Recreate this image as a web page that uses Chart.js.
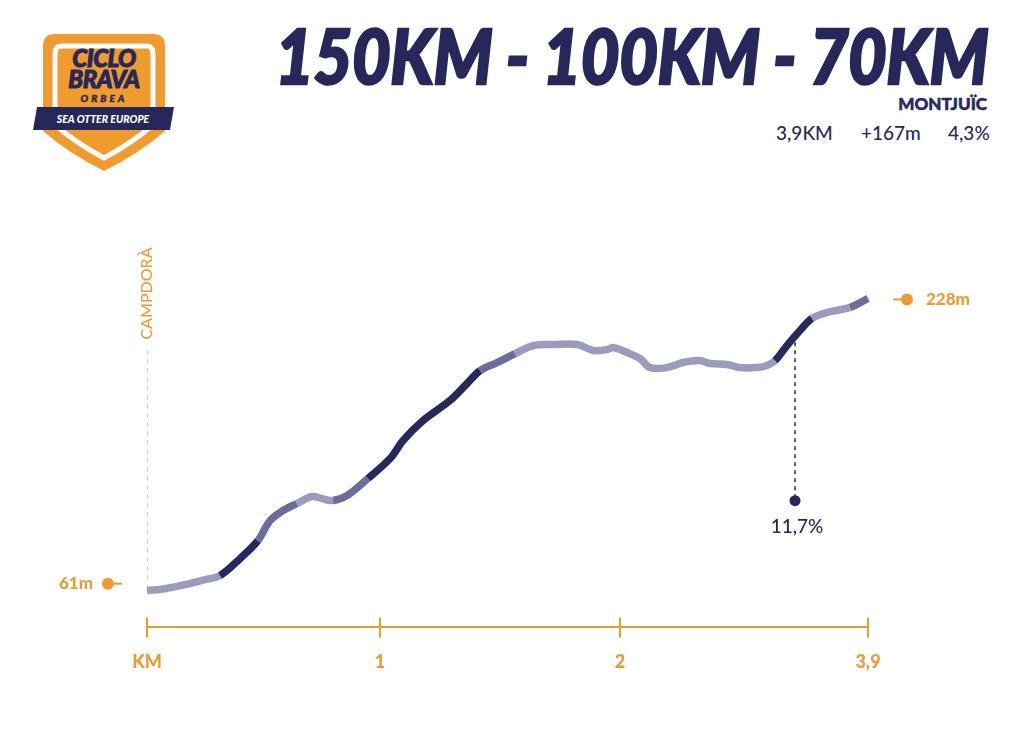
<!DOCTYPE html>
<html>
<head>
<meta charset="utf-8">
<script src="https://cdn.jsdelivr.net/npm/chart.js@4.4.1/dist/chart.umd.min.js"></script>
<style>
  html, body { margin: 0; padding: 0; background: #fff; }
  body { width: 1024px; height: 741px; position: relative; overflow: hidden; font-family: Lato, 'Open Sans', sans-serif; color: #27275c; }
  #chart { position: absolute; left: 0; top: 0; }
  .logo { position: absolute; left: 0; top: 0; }
  .title { position: absolute; right: 36px; top: 10px; font-style: italic; font-weight: 900; font-size: 76px; line-height: 90px;
           white-space: nowrap; transform: scaleX(0.88); transform-origin: right top; letter-spacing: -0.5px;
           -webkit-text-stroke: 2.5px #27275c; }
  .climb { position: absolute; right: 37px; top: 94px; font-weight: 900; font-size: 17px; line-height: 20px; -webkit-text-stroke: 0.5px #27275c; }
  .stat { position: absolute; top: 122px; font-size: 19px; line-height: 22px; font-weight: 500; }
</style>
</head>
<body>
<svg class="logo" width="200" height="190" viewBox="0 0 200 190">
  <path d="M55,34 H153 Q165,34 165,46 V131 Q140,153 104,171 Q68,153 43,131 V46 Q43,34 55,34 Z" fill="#ef9b2e"/>
  <path d="M62,46 H146 Q153,46 153,53 V125 Q132,143 104,158 Q76,143 55,125 V53 Q55,46 62,46 Z" fill="none" stroke="#fff" stroke-width="5"/>
  <g font-family="Lato" font-weight="900" font-style="italic" fill="#27275c" stroke="#27275c" text-anchor="middle">
    <text x="104" y="67" font-size="24" stroke-width="1" letter-spacing="-0.5">CICLO</text>
    <text x="104" y="88" font-size="24" stroke-width="1" letter-spacing="-0.5">BRAVA</text>
    <text x="104" y="102" font-size="10" stroke-width="0.4" letter-spacing="3">ORBEA</text>
  </g>
  <path d="M37,107 L174,107 L170,130 L33,130 Z" fill="#27275c"/>
  <text x="103" y="123" text-anchor="middle" font-family="Lato" font-weight="900" font-style="italic" font-size="10.5" fill="#fff">SEA OTTER EUROPE</text>
</svg>
<div class="title">150KM - 100KM - 70KM</div>
<div class="climb">MONTJUÏC</div>
<div class="stat" style="left:776px">3,9KM</div>
<div class="stat" style="left:861px">+167m</div>
<div class="stat" style="left:948px">4,3%</div>
<canvas id="chart" width="1024" height="741"></canvas>
<script>
// elevation profile, km along the climb and metres above sea level
const distanceKm = [0, 0.077, 0.163, 0.249, 0.313, 0.399, 0.476, 0.528, 0.584, 0.644,
  0.708, 0.751, 0.798, 0.858, 0.948, 1.042, 1.096, 1.179, 1.292, 1.363,
  1.417, 1.488, 1.563, 1.638, 1.721, 1.821, 1.888, 1.946, 1.971, 2.054,
  2.153, 2.230, 2.360, 2.483, 2.613, 2.690, 2.820, 2.919, 3.050, 3.126,
  3.188, 3.279, 3.379, 3.471, 3.586, 3.762, 3.9];
const elevationM = [61, 62.1, 64.4, 67.3, 69.6, 79.3, 89.6, 101.0, 106.8, 110.8,
  114.8, 113.6, 112.5, 115.3, 125.1, 136.5, 146.8, 158.2, 169.7, 179.4,
  186.8, 191.4, 196.5, 201.1, 201.7, 201.7, 198.3, 198.8, 200.0, 197.1,
  193.7, 188.5, 188.5, 191.4, 192.5, 190.8, 190.3, 188.5, 188.5, 189.7,
  192.5, 201.1, 209.7, 216.6, 220.0, 222.9, 228];
// gradient class of each stretch: 0 gentle, 1 medium, 2 steep
const gradeClass = [0, 0, 0, 0, 2, 2, 1, 1, 1, 0,
  0, 0, 1, 1, 2, 2, 2, 2, 2, 2,
  1, 1, 0, 0, 0, 0, 0, 0, 0, 0,
  0, 0, 0, 0, 0, 0, 0, 0, 0, 0,
  2, 2, 2, 0, 0, 1];
const tickKm = [0, 1, 2, 3.9];
const tickLabels = ['KM', '1', '2', '3,9'];
const maxGradeKm = 3.341;
const maxGradeLabel = '11,7%';
const startName = 'CAMPDORÀ';

const ORANGE = '#ec9a35';
const NAVY = '#27275c';
const GRADE_COLORS = ['#9b9bbb', '#6d6d9b', '#28285f'];

// the printed km axis is not evenly spaced, so place the km marks where the poster has them
const AXIS_FRACTIONS = [0, 233 / 721, 473 / 721, 1];
function kmToDecimal(v) {
  for (let i = 1; i < tickKm.length; i++) {
    if (v <= tickKm[i] || i === tickKm.length - 1) {
      const t = (v - tickKm[i - 1]) / (tickKm[i] - tickKm[i - 1]);
      return AXIS_FRACTIONS[i - 1] + t * (AXIS_FRACTIONS[i] - AXIS_FRACTIONS[i - 1]);
    }
  }
  return 0;
}
class ProfileScale extends Chart.LinearScale {
  getPixelForValue(value) {
    return this.getPixelForDecimal(kmToDecimal(value));
  }
}
ProfileScale.id = 'profile';
ProfileScale.defaults = Chart.LinearScale.defaults;
Chart.register(ProfileScale);

function elevationAt(km) {
  for (let i = 1; i < distanceKm.length; i++) {
    if (km <= distanceKm[i]) {
      const t = (km - distanceKm[i - 1]) / (distanceKm[i] - distanceKm[i - 1]);
      return elevationM[i - 1] + t * (elevationM[i] - elevationM[i - 1]);
    }
  }
  return elevationM[elevationM.length - 1];
}

const profileMarks = {
  id: 'profileMarks',
  beforeDatasetsDraw(chart) {
    const { ctx, scales: { x, y }, chartArea } = chart;
    const x0 = x.getPixelForValue(distanceKm[0]);
    const top = elevationM[elevationM.length - 1];
    ctx.save();
    // start line with town name
    ctx.strokeStyle = '#f3c083';
    ctx.lineWidth = 1;
    ctx.setLineDash([4, 5]);
    ctx.beginPath();
    ctx.moveTo(x0 + 0.5, y.getPixelForValue(top) + 52);
    ctx.lineTo(x0 + 0.5, y.getPixelForValue(elevationM[0]));
    ctx.stroke();
    ctx.setLineDash([]);
    ctx.translate(x0, y.getPixelForValue(top) - 5);
    ctx.rotate(-Math.PI / 2);
    ctx.fillStyle = ORANGE;
    ctx.font = '500 16px Lato';
    ctx.textAlign = 'center';
    ctx.textBaseline = 'middle';
    ctx.fillText(startName, 0, 0);
    ctx.restore();

    // upper half of the km tick marks
    ctx.save();
    ctx.strokeStyle = ORANGE;
    ctx.lineWidth = 2;
    x.ticks.forEach((t, i) => {
      const px = Math.round(x.getPixelForTick(i));
      ctx.beginPath();
      ctx.moveTo(px, chartArea.bottom - 10);
      ctx.lineTo(px, chartArea.bottom);
      ctx.stroke();
    });
    ctx.restore();
  },
  afterDatasetsDraw(chart) {
    const { ctx, scales: { x, y } } = chart;
    const x0 = x.getPixelForValue(distanceKm[0]);
    const x1 = x.getPixelForValue(distanceKm[distanceKm.length - 1]);
    const yStart = y.getPixelForValue(elevationM[0]);
    const yEnd = y.getPixelForValue(elevationM[elevationM.length - 1]);
    ctx.save();
    ctx.font = '900 17px Lato';
    ctx.textBaseline = 'middle';
    ctx.fillStyle = ORANGE;
    ctx.strokeStyle = ORANGE;
    ctx.lineWidth = 2;

    // start elevation
    const ys = yStart - 7;
    ctx.beginPath(); ctx.moveTo(x0 - 39, ys); ctx.lineTo(x0 - 25, ys); ctx.stroke();
    ctx.beginPath(); ctx.arc(x0 - 39, ys, 6, 0, Math.PI * 2); ctx.fill();
    ctx.textAlign = 'right';
    ctx.fillText(elevationM[0] + 'm', x0 - 54, ys);

    // summit elevation
    const ye = yEnd + 1;
    ctx.beginPath(); ctx.moveTo(x1 + 25, ye); ctx.lineTo(x1 + 39, ye); ctx.stroke();
    ctx.beginPath(); ctx.arc(x1 + 39, ye, 6, 0, Math.PI * 2); ctx.fill();
    ctx.textAlign = 'left';
    ctx.fillText(elevationM[elevationM.length - 1] + 'm', x1 + 58, ye);

    // steepest point
    const xm = x.getPixelForValue(maxGradeKm);
    const ym = y.getPixelForValue(elevationAt(maxGradeKm));
    const dotY = yStart - 90;
    ctx.strokeStyle = NAVY;
    ctx.fillStyle = NAVY;
    ctx.lineWidth = 1.5;
    ctx.setLineDash([4, 4]);
    ctx.beginPath(); ctx.moveTo(xm, ym + 6); ctx.lineTo(xm, dotY); ctx.stroke();
    ctx.setLineDash([]);
    ctx.beginPath(); ctx.arc(xm, dotY, 5.5, 0, Math.PI * 2); ctx.fill();
    ctx.font = '500 19px Lato';
    ctx.textAlign = 'center';
    ctx.fillText(maxGradeLabel, xm + 2, dotY + 26);
    ctx.restore();
  }
};

new Chart(document.getElementById('chart'), {
  type: 'line',
  data: {
    datasets: [{
      data: distanceKm.map((km, i) => ({ x: km, y: elevationM[i] })),
      borderWidth: 7.5,
      borderColor: GRADE_COLORS[0],
      borderCapStyle: 'butt',
      borderJoinStyle: 'round',
      pointRadius: 0,
      tension: 0.35,
      clip: false,
      segment: {
        borderColor: c => GRADE_COLORS[gradeClass[c.p0DataIndex]]
      }
    }]
  },
  options: {
    responsive: false,
    animation: false,
    events: [],
    layout: { padding: { left: 147, right: 156, top: 225, bottom: 54 } },
    plugins: { legend: { display: false }, tooltip: { enabled: false } },
    scales: {
      x: {
        type: 'profile',
        min: 0,
        max: 3.9,
        afterBuildTicks: s => { s.ticks = tickKm.map(v => ({ value: v })); },
        ticks: {
          color: ORANGE,
          font: { family: 'Lato', size: 18, weight: '900' },
          padding: 14,
          maxRotation: 0,
          autoSkip: false,
          callback: (v, i) => tickLabels[i]
        },
        grid: { display: true, drawOnChartArea: false, drawTicks: true, tickLength: 10, color: ORANGE, lineWidth: 2 },
        border: { display: true, color: ORANGE, width: 2 }
      },
      y: { display: false, min: 40, max: 270 }
    }
  },
  plugins: [profileMarks]
});
</script>
</body>
</html>
